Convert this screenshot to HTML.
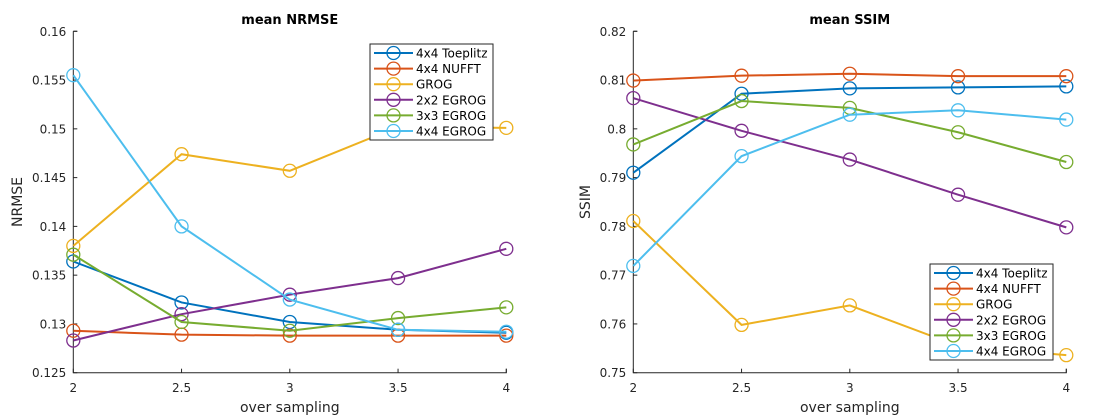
<!DOCTYPE html>
<html><head><meta charset="utf-8"><style>
body{margin:0;background:#fff;}
svg{display:block;font-family:"DejaVu Sans","Liberation Sans",sans-serif;}
</style></head><body>
<svg id="chart" width="1120" height="420" viewBox="0 0 1120 420"></svg>
<script>
const xCategories = [2, 2.5, 3, 3.5, 4];
const seriesNames = ["4x4 Toeplitz","4x4 NUFFT","GROG","2x2 EGROG","3x3 EGROG","4x4 EGROG"];
const seriesColors = ["#0072BD","#D95319","#EDB120","#7E2F8E","#77AC30","#4DBEEE"];
const nrmseToeplitz = [0.1364,0.1322,0.1302,0.1294,0.1291];
const nrmseNufft    = [0.1293,0.1289,0.1288,0.1288,0.1288];
const nrmseGrog     = [0.1380,0.1474,0.1457,0.1502,0.1501];
const nrmseEgrog2   = [0.1283,0.1310,0.1330,0.1347,0.1377];
const nrmseEgrog3   = [0.1371,0.1302,0.1293,0.1306,0.1317];
const nrmseEgrog4   = [0.1555,0.1400,0.1325,0.1294,0.1292];
const ssimToeplitz = [0.7910,0.8072,0.8083,0.8085,0.8087];
const ssimNufft    = [0.8099,0.8109,0.8113,0.8108,0.8108];
const ssimGrog     = [0.7811,0.7598,0.7638,0.7555,0.7536];
const ssimEgrog2   = [0.8063,0.7996,0.7937,0.7865,0.7798];
const ssimEgrog3   = [0.7968,0.8057,0.8043,0.7993,0.7932];
const ssimEgrog4   = [0.7719,0.7944,0.8029,0.8038,0.8019];
const xTickLabels = ["2","2.5","3","3.5","4"];
const nrmseTicks = ["0.125","0.13","0.135","0.14","0.145","0.15","0.155","0.16"];
const ssimTicks = ["0.75","0.76","0.77","0.78","0.79","0.8","0.81","0.82"];

const NS="http://www.w3.org/2000/svg";
const svg=document.getElementById('chart');
function mk(tag,attrs,parent){const e=document.createElementNS(NS,tag);for(const k in attrs)e.setAttribute(k,attrs[k]);(parent||svg).appendChild(e);return e;}

function drawPanel(opt){
  const g=mk('g',{});
  
  
  const L=opt.left,R=opt.right,T=31.3,B=372.7;
  const xs=v=>L+(v-2)/2*(R-L);
  const ys=v=>B-(v-opt.ymin)/(opt.ymax-opt.ymin)*(B-T);
  const ax=mk('path',{d:`M${L},${T}H${L+4}M${L},${T}V${B}H${R}V${B-4}`,stroke:'#262626',fill:'none','stroke-width':1},g);
  
  
  xCategories.forEach((c,i)=>{
    const x=xs(c);
    mk('line',{x1:x,x2:x,y1:B,y2:B-4,stroke:'#262626'},g);
    const t=mk('text',{x:x,y:392,'text-anchor':'middle','font-size':12,fill:'#262626'},g);
    t.textContent=xTickLabels[i];
    
    
  });
  opt.ticks.forEach(lbl=>{
    const y=ys(parseFloat(lbl));
    mk('line',{x1:L,x2:L+4,y1:y,y2:y,stroke:'#262626'},g);
    const t=mk('text',{x:L-7,y:y+4.5,'text-anchor':'end','font-size':12,fill:'#262626'},g);
    t.textContent=lbl;
    
    
  });
  const title=mk('text',{x:(L+R)/2,y:24,'text-anchor':'middle','font-size':13,'font-weight':'bold',fill:'#000'},g);
  title.textContent=opt.title;
  
  
  const xl=mk('text',{x:(L+R)/2,y:412,'text-anchor':'middle','font-size':14,fill:'#262626'},g);
  xl.textContent='over sampling';
  
  
  const yl=mk('text',{x:0,y:0,'text-anchor':'middle','font-size':14,fill:'#262626',transform:`translate(${opt.ylx},${(T+B)/2}) rotate(-90)`},g);
  yl.textContent=opt.ylabel;
  
  
  opt.series.forEach((vals,si)=>{
    const sg=mk('g',{},g);
    
    
    const pts=vals.map((v,i)=>xs(xCategories[i])+','+ys(v)).join(' ');
    mk('polyline',{points:pts,fill:'none',stroke:seriesColors[si],'stroke-width':2},sg);
    vals.forEach((v,i)=>{
      const c=mk('circle',{cx:xs(xCategories[i]),cy:ys(v),r:6.5,fill:'none',stroke:seriesColors[si],'stroke-width':1.3},sg);
      
      
    });
  });
  const lg=mk('g',{},g);
  
  
  mk('rect',{x:opt.lgx,y:opt.lgy,width:123,height:96,fill:'#fff',stroke:'#262626','stroke-width':1},lg);
  seriesNames.forEach((n,i)=>{
    const y=opt.lgy+9+i*15.6;
    const e=mk('g',{},lg);
    
    
    mk('line',{x1:opt.lgx+4,x2:opt.lgx+43,y1:y,y2:y,stroke:seriesColors[i],'stroke-width':2},e);
    mk('circle',{cx:opt.lgx+23.5,cy:y,r:6.5,fill:'none',stroke:seriesColors[i],'stroke-width':1.3},e);
    const t=mk('text',{x:opt.lgx+46,y:y+4.5,'font-size':12,fill:'#000'},e);
    t.textContent=n;
  });
}
drawPanel({name:'nrmse-panel',left:73.3,right:506.3,ymin:0.125,ymax:0.16,ticks:nrmseTicks,title:'mean NRMSE',ylabel:'NRMSE',ylx:22,
  series:[nrmseToeplitz,nrmseNufft,nrmseGrog,nrmseEgrog2,nrmseEgrog3,nrmseEgrog4],lgx:370,lgy:44});
drawPanel({name:'ssim-panel',left:633.3,right:1066.3,ymin:0.75,ymax:0.82,ticks:ssimTicks,title:'mean SSIM',ylabel:'SSIM',ylx:590,
  series:[ssimToeplitz,ssimNufft,ssimGrog,ssimEgrog2,ssimEgrog3,ssimEgrog4],lgx:930,lgy:264});
</script>
</body></html>
